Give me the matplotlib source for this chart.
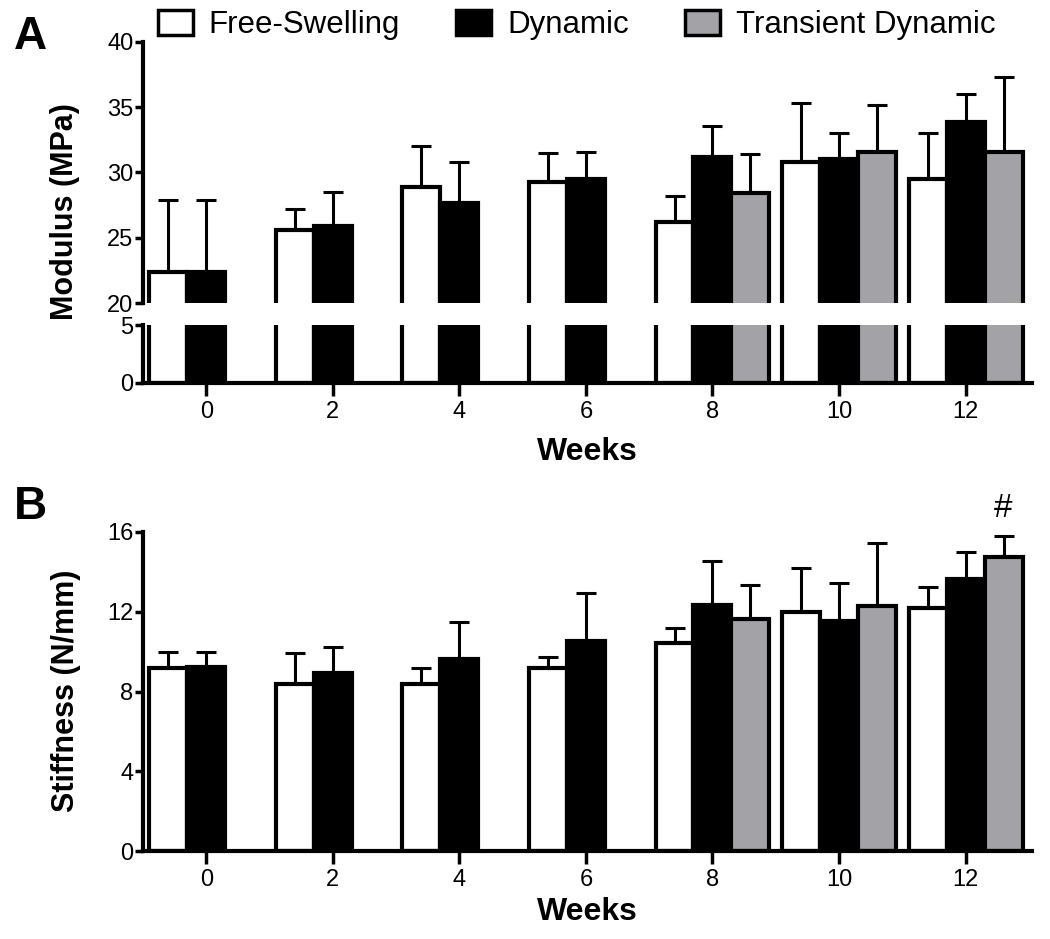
import matplotlib.pyplot as plt
import numpy as np
from matplotlib.patches import Patch

plt.rcParams['font.family'] = ['Liberation Sans', 'DejaVu Sans']

# Datos
semanas = np.array([0, 2, 4, 6, 8, 10, 12])
grupos = ['Free-Swelling', 'Dynamic', 'Transient Dynamic']
colores = ['white', 'black', '#a3a2a7']

# Modulo (MPa): media y extremo superior de la barra de error
mod_free = [22.4, 25.6, 28.9, 29.3, 26.2, 30.8, 29.5]
mod_free_sup = [27.9, 27.2, 32.0, 31.5, 28.2, 35.3, 33.0]
mod_din = [22.4, 25.9, 27.7, 29.5, 31.2, 31.0, 33.9]
mod_din_sup = [27.9, 28.5, 30.8, 31.6, 33.6, 33.0, 36.0]
mod_trans = [np.nan, np.nan, np.nan, np.nan, 28.4, 31.6, 31.6]
mod_trans_sup = [np.nan, np.nan, np.nan, np.nan, 31.4, 35.2, 37.3]

# Rigidez (N/mm)
rig_free = [9.2, 8.4, 8.4, 9.2, 10.45, 12.0, 12.2]
rig_free_sup = [10.0, 9.95, 9.2, 9.73, 11.2, 14.2, 13.25]
rig_din = [9.25, 8.93, 9.63, 10.55, 12.35, 11.55, 13.65]
rig_din_sup = [10.0, 10.25, 11.5, 12.95, 14.55, 13.45, 15.0]
rig_trans = [np.nan, np.nan, np.nan, np.nan, 11.65, 12.3, 14.75]
rig_trans_sup = [np.nan, np.nan, np.nan, np.nan, 13.35, 15.45, 15.8]

desplaz = [-0.6, 0.0, 0.6]
ancho = 0.6
W, H = 1050, 939


def caja(l, t, r, b):
    return [l / W, 1 - b / H, (r - l) / W, (b - t) / H]


def barras(ax, medias, superiores):
    for k in range(3):
        m = np.array(medias[k], dtype=float)
        s = np.array(superiores[k], dtype=float)
        ok = ~np.isnan(m)
        x = semanas[ok] + desplaz[k]
        ax.bar(x, m[ok], width=ancho, color=colores[k], edgecolor='black',
               linewidth=3, zorder=2)
        err = s[ok] - m[ok]
        ax.errorbar(x, m[ok], yerr=[np.zeros_like(err), err], fmt='none',
                    ecolor='black', elinewidth=2.2, capsize=7.5, capthick=2.2,
                    zorder=1)


def estilo(ax):
    for lado in ['top', 'right']:
        ax.spines[lado].set_visible(False)
    for lado in ['left', 'bottom']:
        ax.spines[lado].set_linewidth(3)
    ax.tick_params(axis='both', width=2.5, length=6, labelsize=17, pad=1)
    ax.set_xlim(-1, 13.05)


fig = plt.figure(figsize=(10.5, 9.39), dpi=100)

# Panel A (eje partido)
axA = fig.add_axes(caja(143, 42, 1032, 303))
axA0 = fig.add_axes(caja(143, 325, 1032, 383))
for ax in [axA, axA0]:
    barras(ax, [mod_free, mod_din, mod_trans],
           [mod_free_sup, mod_din_sup, mod_trans_sup])
    estilo(ax)
axA.set_ylim(20, 40)
axA.set_yticks([20, 25, 30, 35, 40])
axA.spines['bottom'].set_visible(False)
axA.set_xticks([])
axA0.set_ylim(0, 5)
axA0.set_yticks([0, 5])
axA0.set_xticks(semanas)
axA0.tick_params(axis='x', length=9, pad=4)

# Panel B
axB = fig.add_axes(caja(143, 532, 1032, 851))
barras(axB, [rig_free, rig_din, rig_trans],
       [rig_free_sup, rig_din_sup, rig_trans_sup])
estilo(axB)
axB.set_ylim(0, 16)
axB.set_yticks([0, 4, 8, 12, 16])
axB.set_xticks(semanas)
axB.tick_params(axis='x', length=9, pad=4)
axB.text(12.6, 17.2, '#', ha='center', va='center', fontsize=24)

# Etiquetas
fig.text(65 / W, 1 - 212 / H, 'Modulus (MPa)', rotation=90, ha='center',
         va='center', fontsize=22, fontweight='bold')
fig.text(66 / W, 1 - 691 / H, 'Stiffness (N/mm)', rotation=90, ha='center',
         va='center', fontsize=22, fontweight='bold')
fig.text(587 / W, 1 - 452 / H, 'Weeks', ha='center', va='center',
         fontsize=23, fontweight='bold')
fig.text(587 / W, 1 - 912 / H, 'Weeks', ha='center', va='center',
         fontsize=23, fontweight='bold')
fig.text(30 / W, 1 - 37 / H, 'A', ha='center', va='center', fontsize=33,
         fontweight='bold')
fig.text(30 / W, 1 - 507 / H, 'B', ha='center', va='center', fontsize=33,
         fontweight='bold')

# Leyenda
manijas = [Patch(facecolor=c, edgecolor='black', linewidth=2.5) for c in colores]
fig.legend(manijas, grupos, loc='center left', bbox_to_anchor=(158 / W, 1 - 25 / H),
           ncol=3, frameon=False, fontsize=22.5, handlelength=1.12,
           handleheight=0.85, handletextpad=0.5, columnspacing=1.8,
           borderpad=0, borderaxespad=0)

plt.savefig('out.png', dpi=100)
